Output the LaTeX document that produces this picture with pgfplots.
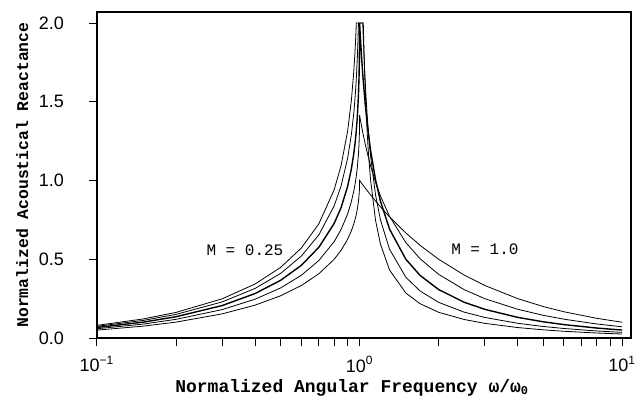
\documentclass[border=0pt]{standalone}
\usepackage{fontspec}
\setmainfont{Liberation Sans}
\setmonofont{Liberation Mono}
\usepackage{pgfplots}
\pgfplotsset{compat=1.18}

\begin{document}
\begin{tikzpicture}
\useasboundingbox (-48.5pt,-35.5pt) rectangle (272pt,169pt);
\begin{axis}[
    scale only axis,
    width=267pt,
    height=163pt,
    xmode=log,
    xmin=0.1, xmax=10.8,
    ymin=0, ymax=2.07,
    xtick={0.1,1,10},
    xticklabels={10\textsuperscript{−1},10\textsuperscript{0},10\textsuperscript{1}},
    minor xtick={0.2,0.3,0.4,0.5,0.6,0.7,0.8,0.9,2,3,4,5,6,7,8,9},
    ytick={0,0.5,1,1.5,2},
    yticklabels={0.0,0.5,1.0,1.5,2.0},
    xtick pos=left,
    ytick pos=left,
    tick align=outside,
    major tick length=4pt,
    minor tick length=4pt,
    tick style={black, line width=0.5pt},
    axis line style={line width=0.7pt},
    ticklabel style={font=\fontsize{9}{10}\selectfont},
    xticklabel style={yshift=-1.5pt},
    yticklabel style={xshift=-9pt},
    xlabel={Normalized Angular Frequency ω/ω\textsubscript{0}},
    ylabel={Normalized Acoustical Reactance},
    xlabel style={font=\ttfamily\bfseries\fontsize{9}{10}\selectfont,
        at={(axis description cs:0.478,-0.153)}, anchor=center},
    ylabel style={font=\ttfamily\bfseries\fontsize{8.2}{10}\selectfont,
        at={(axis description cs:-0.14,0.5)}, anchor=center},
    cycle list={{black, mark=none, line width=0.7pt, line join=round}},
]

% M = 0.25
\addplot coordinates {
(0.10,0.0803) (0.15,0.1211) (0.20,0.1626) (0.30,0.2492) (0.40,0.3429)
(0.50,0.4480) (0.60,0.5714) (0.70,0.7260) (0.80,0.9412) (0.85,1.0943)
(0.90,1.3122) (0.93,1.5059) (0.95,1.6896) (0.96,1.8113) (0.965,1.8839)
(0.97,1.9672) (0.9717,2.0) (1.0328,2.0) (1.035,1.9350) (1.04,1.8043)
(1.045,1.6907) (1.05,1.5909) (1.06,1.4240) (1.07,1.2898) (1.08,1.1796)
(1.10,1.0092) (1.15,0.7468) (1.20,0.5970) (1.30,0.4319) (1.50,0.2857)
(1.70,0.2177) (2.0,0.1633) (2.5,0.1176) (3,0.0930) (4,0.0664)
(5,0.0519) (6,0.0428) (8,0.0317) (10,0.0252)
};

% M = 0.354
\addplot coordinates {
(0.10,0.0742) (0.15,0.1118) (0.20,0.1500) (0.30,0.2295) (0.40,0.3149)
(0.50,0.4100) (0.60,0.5201) (0.70,0.6556) (0.80,0.8390) (0.85,0.9656)
(0.90,1.1401) (0.93,1.2897) (0.95,1.4269) (0.96,1.5153) (0.97,1.6257)
(0.98,1.7736) (0.985,1.8723) (0.9899,2.0) (1.028,2.0) (1.03,1.9589)
(1.04,1.7797) (1.05,1.6318) (1.06,1.5075) (1.07,1.4016) (1.08,1.3104)
(1.10,1.1609) (1.15,0.9086) (1.20,0.7509) (1.30,0.5640) (1.50,0.3857)
(1.70,0.2983) (2.0,0.2263) (2.5,0.1644) (3,0.1305) (4,0.0935)
(5,0.0733) (6,0.0604) (8,0.0448) (10,0.0357)
};

% M = 0.5
\addplot coordinates {
(0.10,0.0669) (0.15,0.1008) (0.20,0.1352) (0.30,0.2063) (0.40,0.2824)
(0.50,0.3660) (0.60,0.4615) (0.70,0.5765) (0.80,0.7273) (0.85,0.8278)
(0.90,0.9617) (0.93,1.0720) (0.95,1.1696) (0.96,1.2308) (0.97,1.3053)
(0.98,1.4020) (0.99,1.5443) (0.995,1.6587) (0.998,1.7720) (0.9995,1.8801)
(0.9999,1.9448) (1.0,2.0) (1.002,1.9724) (1.005,1.9325) (1.01,1.8697)
(1.02,1.7562) (1.03,1.6565) (1.05,1.4894) (1.07,1.3548) (1.10,1.1957)
(1.15,1.0044) (1.20,0.8696) (1.30,0.6915) (1.50,0.5) (1.70,0.3972)
(2.0,0.3077) (2.5,0.2273) (3,0.1818) (4,0.1311) (5,0.1031)
(6,0.0851) (8,0.0632) (10,0.0504)
};

% M = 0.707
\addplot coordinates {
(0.10,0.0588) (0.15,0.0885) (0.20,0.1186) (0.30,0.1806) (0.40,0.2464)
(0.50,0.3178) (0.60,0.3981) (0.70,0.4925) (0.80,0.6120) (0.85,0.6889)
(0.90,0.7874) (0.93,0.8654) (0.95,0.9320) (0.96,0.9725) (0.97,1.0208)
(0.98,1.0815) (0.99,1.1672) (0.995,1.2330) (0.998,1.2956) (0.9995,1.3530)
(1.0,1.4142) (1.002,1.4058) (1.005,1.3933) (1.01,1.3732) (1.02,1.3347)
(1.03,1.2985) (1.05,1.2323) (1.07,1.1732) (1.10,1.0955) (1.15,0.9887)
(1.20,0.9027) (1.30,0.7725) (1.50,0.6061) (1.70,0.5030) (2.0,0.4041)
(2.5,0.3074) (3,0.2496) (4,0.1825) (5,0.1443) (6,0.1195)
(8,0.0891) (10,0.0711)
};

% M = 1.0
\addplot coordinates {
(0.10,0.0501) (0.15,0.0754) (0.20,0.1010) (0.30,0.1535) (0.40,0.2087)
(0.50,0.2680) (0.60,0.3333) (0.70,0.4084) (0.80,0.5) (0.85,0.5567)
(0.90,0.6268) (0.93,0.6800) (0.95,0.7240) (0.96,0.75) (0.97,0.7803)
(0.98,0.8174) (0.99,0.8676) (0.995,0.9047) (0.998,0.9387) (0.9995,0.9689)
(1.0,1.0) (1.002,0.9980) (1.005,0.9950) (1.01,0.9901) (1.02,0.9804)
(1.03,0.9709) (1.05,0.9524) (1.07,0.9346) (1.10,0.9091) (1.15,0.8696)
(1.20,0.8333) (1.30,0.7692) (1.50,0.6667) (1.70,0.5882) (2.0,0.5)
(2.5,0.4) (3,0.3333) (4,0.25) (5,0.2) (6,0.1667)
(8,0.125) (10,0.1)
};

\node[font=\ttfamily\fontsize{8}{10}\selectfont] at (axis cs:0.366,0.555) {M = 0.25};
\node[font=\ttfamily\fontsize{8}{10}\selectfont] at (axis cs:3.0,0.565) {M = 1.0};

\end{axis}
\end{tikzpicture}
\end{document}
